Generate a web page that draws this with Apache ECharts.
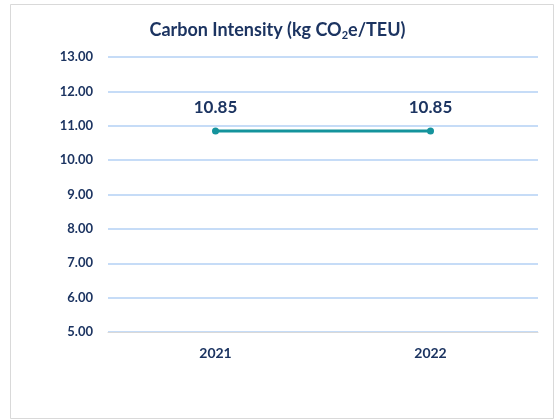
<!DOCTYPE html>
<html>
<head>
<meta charset="utf-8">
<script src="https://cdn.jsdelivr.net/npm/echarts@6/dist/echarts.min.js"></script>
<style>
  html, body { margin: 0; padding: 0; background: #fff; }
  #chart { width: 555px; height: 420px; }
</style>
</head>
<body>
<div id="chart"></div>
<script>
var years = ['2021', '2022'];
var intensity = [10.85, 10.85];
var yTicks = { min: 5, max: 13, interval: 1 };

var navy = '#1c3461';
var myChart = echarts.init(document.getElementById('chart'));
myChart.setOption({
    animation: false,
    textStyle: { fontFamily: 'Lato', color: navy },
    graphic: [{
        type: 'rect',
        shape: { x: 10.5, y: 4.5, width: 543, height: 414 },
        style: { fill: '#fff', stroke: '#d9d9d9', lineWidth: 1 },
        z: -10
    }],
    title: {
        text: '{a|Carbon Intensity (kg CO}{s|2}{a|e/TEU)}',
        left: 'center',
        top: 15,
        textStyle: {
            rich: {
                a: { fontFamily: 'Lato', fontWeight: 'bold', fontSize: 18, color: navy },
                s: { fontFamily: 'Lato', fontWeight: 'bold', fontSize: 11, color: navy, padding: [10, 0, 0, 0] }
            }
        }
    },
    grid: { left: 108, right: 17, top: 57, bottom: 88 },
    xAxis: {
        type: 'category',
        data: years,
        boundaryGap: true,
        axisLine: { lineStyle: { color: '#d9d9d9', width: 1 } },
        axisTick: { show: false },
        axisLabel: { color: navy, fontWeight: 'bold', fontSize: 14, margin: 14 }
    },
    yAxis: {
        type: 'value',
        min: yTicks.min,
        max: yTicks.max,
        interval: yTicks.interval,
        axisLine: { show: false },
        axisTick: { show: false },
        splitLine: { lineStyle: { color: '#c6dcf7', width: 2 } },
        axisLabel: {
            color: navy, fontWeight: 'bold', fontSize: 13, margin: 15,
            formatter: function (v) { return v.toFixed(2); }
        }
    },
    series: [{
        type: 'line',
        data: intensity,
        symbol: 'circle',
        symbolSize: 7,
        lineStyle: { color: '#14939c', width: 3 },
        itemStyle: { color: '#14939c' },
        label: {
            show: true,
            position: 'top',
            distance: 11,
            color: navy,
            fontWeight: 'bold',
            fontSize: 17,
            formatter: function (p) { return p.value.toFixed(2); }
        }
    }]
});
</script>
</body>
</html>
